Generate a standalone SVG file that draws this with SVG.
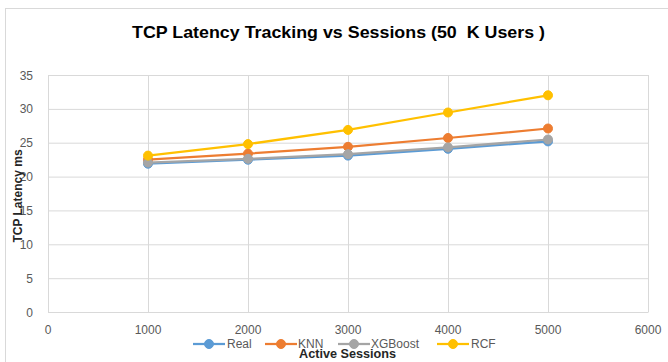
<svg xmlns="http://www.w3.org/2000/svg" width="668" height="362" viewBox="0 0 668 362">
<defs>
<style>
.grid{stroke:#d9d9d9;stroke-width:1;fill:none}
.tick{font-family:"Liberation Sans",Arial,sans-serif;font-size:12px;fill:#595959}
.yt{text-anchor:end}
.xt{text-anchor:middle}
.ser{fill:none;stroke-width:2.25;stroke-linejoin:round}
.leg{font-family:"Liberation Sans",Arial,sans-serif;font-size:12px;fill:#595959}
.axt{font-family:"Liberation Sans",Arial,sans-serif;font-size:12px;font-weight:bold;fill:#262626}
</style>
</defs>
<rect x="0" y="0" width="668" height="362" fill="#ffffff"/>
<rect x="5.5" y="8.5" width="680" height="370" fill="#ffffff" stroke="#d9d9d9" stroke-width="1"/>
<text x="338.5" y="38" text-anchor="middle" font-family="'Liberation Sans',Arial,sans-serif" font-size="17" font-weight="bold" fill="#000000" style="white-space:pre" xml:space="preserve" textLength="413" lengthAdjust="spacingAndGlyphs">TCP Latency Tracking vs Sessions (50  K Users )</text>
<g id="gridlines">
<path class="grid" d="M48 75.5H648M48 109.4H648M48 143.2H648M48 177.1H648M48 210.9H648M48 244.8H648M48 278.7H648M48 312.5H648"/>
<path class="grid" d="M48.5 75V312.5M148.5 75V312.5M248.5 75V312.5M348.5 75V312.5M448.5 75V312.5M548.5 75V312.5M648.5 75V312.5"/>
</g>
<g id="y-axis-labels" class="tick yt">
<text x="33" y="79.5">35</text>
<text x="33" y="113.4">30</text>
<text x="33" y="147.2">25</text>
<text x="33" y="181.1">20</text>
<text x="33" y="214.9">15</text>
<text x="33" y="248.8">10</text>
<text x="33" y="282.7">5</text>
<text x="33" y="316.5">0</text>
</g>
<g id="x-axis-labels" class="tick xt">
<text x="48" y="334">0</text>
<text x="148" y="334">1000</text>
<text x="248" y="334">2000</text>
<text x="348" y="334">3000</text>
<text x="448" y="334">4000</text>
<text x="548" y="334">5000</text>
<text x="648" y="334">6000</text>
</g>
<g id="series-real" stroke="#5B9BD5" fill="#5B9BD5">
<polyline class="ser" points="148,163.7 248,159.7 348,155.6 448,148.8 548,141.4"/>
<circle cx="148" cy="163.7" r="4.5"/><circle cx="248" cy="159.7" r="4.5"/><circle cx="348" cy="155.6" r="4.5"/><circle cx="448" cy="148.8" r="4.5"/><circle cx="548" cy="141.4" r="4.5"/>
</g>
<g id="series-knn" stroke="#ED7D31" fill="#ED7D31">
<polyline class="ser" points="148,159.7 248,153.6 348,146.8 448,138 548,128.5"/>
<circle cx="148" cy="159.7" r="4.5"/><circle cx="248" cy="153.6" r="4.5"/><circle cx="348" cy="146.8" r="4.5"/><circle cx="448" cy="138" r="4.5"/><circle cx="548" cy="128.5" r="4.5"/>
</g>
<g id="series-xgboost" stroke="#A5A5A5" fill="#A5A5A5">
<polyline class="ser" points="148,162.6 248,158.8 348,154.2 448,147.4 548,139.5"/>
<circle cx="148" cy="162.6" r="4.5"/><circle cx="248" cy="158.8" r="4.5"/><circle cx="348" cy="154.2" r="4.5"/><circle cx="448" cy="147.4" r="4.5"/><circle cx="548" cy="139.5" r="4.5"/>
</g>
<g id="series-rcf" stroke="#FFC000" fill="#FFC000">
<polyline class="ser" points="148,155.6 248,144.1 348,129.9 448,112.5 548,95.3"/>
<circle cx="148" cy="155.6" r="4.5"/><circle cx="248" cy="144.1" r="4.5"/><circle cx="348" cy="129.9" r="4.5"/><circle cx="448" cy="112.5" r="4.5"/><circle cx="548" cy="95.3" r="4.5"/>
</g>
<g id="legend">
<g id="legend-real" stroke="#5B9BD5" fill="#5B9BD5"><line x1="193" y1="344" x2="225" y2="344" stroke-width="2.25"/><circle cx="209" cy="344" r="4.5"/></g>
<text class="leg" x="227" y="348">Real</text>
<g id="legend-knn" stroke="#ED7D31" fill="#ED7D31"><line x1="265" y1="344" x2="297" y2="344" stroke-width="2.25"/><circle cx="281" cy="344" r="4.5"/></g>
<text class="leg" x="298" y="348">KNN</text>
<g id="legend-xgboost" stroke="#A5A5A5" fill="#A5A5A5"><line x1="338" y1="344" x2="370" y2="344" stroke-width="2.25"/><circle cx="354" cy="344" r="4.5"/></g>
<text class="leg" x="371" y="348">XGBoost</text>
<g id="legend-rcf" stroke="#FFC000" fill="#FFC000"><line x1="437" y1="344" x2="469" y2="344" stroke-width="2.25"/><circle cx="453" cy="344" r="4.5"/></g>
<text class="leg" x="471" y="348">RCF</text>
</g>
<text class="axt" x="347.5" y="357.5" text-anchor="middle" textLength="97" lengthAdjust="spacingAndGlyphs">Active Sessions</text>
<text class="axt" transform="translate(22,196) rotate(-90)" text-anchor="middle">TCP Latency ms</text>
</svg>
